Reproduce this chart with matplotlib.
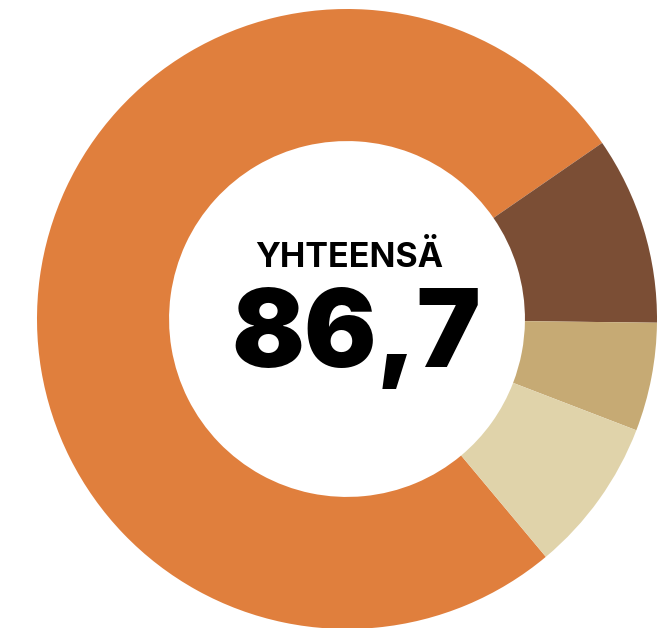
import numpy as np
import matplotlib.pyplot as plt

# osuudet (yhteensä 86,7)
labels = ["A", "B", "C", "D"]
values = [66.3, 8.5, 4.9, 7.0]
colors = ["#E07F3D", "#7B4E35", "#C6AA74", "#E0D3AA"]
title_text = "YHTEENSÄ"
total_text = "86,7"

fig = plt.figure(figsize=(6.58, 6.28), dpi=100)
ax = fig.add_axes([0, 0, 1, 1])

ax.pie(values, colors=colors, startangle=-50.1, counterclock=False,
       radius=1.0, wedgeprops=dict(width=0.426, linewidth=0))

# keskikohta ~ (347, 319) px, säde ~310 px
ax.set_aspect('auto')
ax.set_xlim(-347 / 310, (658 - 347) / 310)
ax.set_ylim(-(628 - 319) / 310, 319 / 310)
ax.axis('off')

ax.text(0.007, 0.169, title_text, ha='center', va='baseline',
        fontsize=24.5, fontweight='bold', family=['Inter', 'DejaVu Sans'])
ax.text(0.03, -0.155, total_text, ha='center', va='baseline',
        fontsize=77.5, fontweight='black', family=['Inter', 'DejaVu Sans'])

fig.savefig('out.png', dpi=100)
